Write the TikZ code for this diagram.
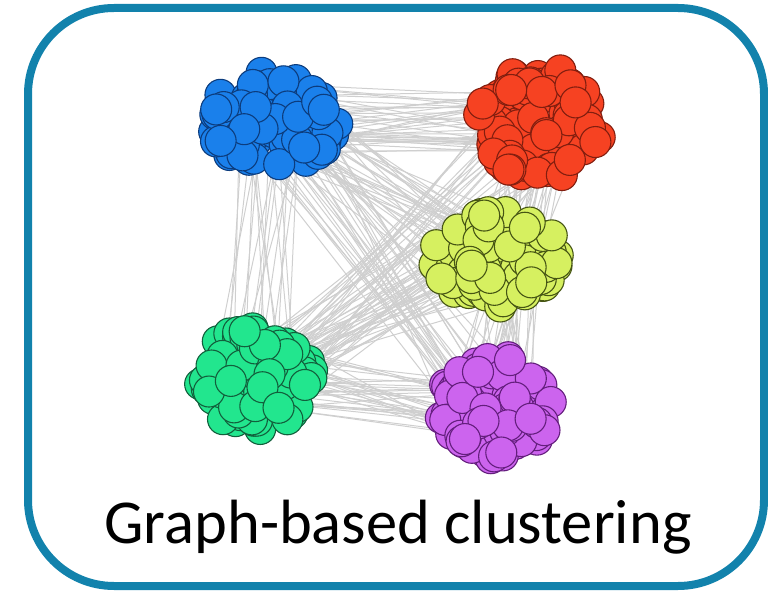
\documentclass[tikz,border=0pt]{standalone}
\usepackage{fontspec}
\setmainfont{Carlito}
\usetikzlibrary{calc}

\definecolor{frameblue}{RGB}{18,130,172}
\definecolor{bluefill}{RGB}{26,128,235}
\definecolor{blueedge}{RGB}{12,60,125}
\definecolor{redfill}{RGB}{246,66,34}
\definecolor{rededge}{RGB}{130,30,15}
\definecolor{limefill}{RGB}{214,240,96}
\definecolor{limeedge}{RGB}{70,85,20}
\definecolor{greenfill}{RGB}{34,230,142}
\definecolor{greenedge}{RGB}{18,95,60}
\definecolor{violetfill}{RGB}{204,100,238}
\definecolor{violetedge}{RGB}{100,30,125}

\tikzset{
  frame/.style={draw=frameblue, line width=8pt, rounded corners=86pt},
  link/.style={draw=black!19, line width=1pt},
  bluedot/.style={fill=bluefill, draw=blueedge, line width=1.1pt},
  reddot/.style={fill=redfill, draw=rededge, line width=1.1pt},
  limedot/.style={fill=limefill, draw=limeedge, line width=1.1pt},
  greendot/.style={fill=greenfill, draw=greenedge, line width=1.1pt},
  violetdot/.style={fill=violetfill, draw=violetedge, line width=1.1pt},
  caption/.style={font=\fontsize{62.5}{70}\selectfont, text=black, anchor=base},
}

% random edges between two cluster centres
\newcommand\linkset[3]{%
  \foreach \k in {1,...,#3}{
    \draw[link] ($(#1)+(42*rand,36*rand)$) -- ($(#2)+(42*rand,36*rand)$);
  }}
% a cloud of overlapping dots round a centre
\newcommand\blob[4]{%
  \foreach \k in {1,...,88}{
    \pgfmathsetmacro\aa{360*rnd}
    \pgfmathsetmacro\rr{sqrt(rnd)}
    \path[#4] ($(#1)+({#2*\rr*cos(\aa)},{#3*\rr*sin(\aa)})$) circle[radius=15.5];
  }}

\begin{document}
\begin{tikzpicture}[x=1pt, y=-1pt]
  \useasboundingbox (0,0) rectangle (768,593);
  \pgfmathsetseed{11}

  \coordinate (blue)   at (273,121);
  \coordinate (red)    at (540,124);
  \coordinate (lime)   at (497,260);
  \coordinate (green)  at (256,378);
  \coordinate (violet) at (496,408);

  % edges
  \linkset{blue}{red}{40}
  \linkset{blue}{lime}{30}
  \linkset{blue}{violet}{25}
  \linkset{blue}{green}{20}
  \linkset{green}{lime}{30}
  \linkset{green}{violet}{35}
  \linkset{green}{red}{25}
  \linkset{red}{lime}{12}
  \linkset{red}{violet}{18}
  \linkset{lime}{violet}{15}

  % clusters
  \blob{blue}{65}{51}{bluedot}
  \blob{red}{62}{59}{reddot}
  \blob{lime}{64}{49}{limedot}
  \blob{green}{58}{52}{greendot}
  \blob{violet}{58}{52}{violetdot}

  \draw[frame] (28,8) rectangle (764,586);
  \node[caption] (title) at (398,543) {Graph-based clustering};
\end{tikzpicture}
\end{document}
